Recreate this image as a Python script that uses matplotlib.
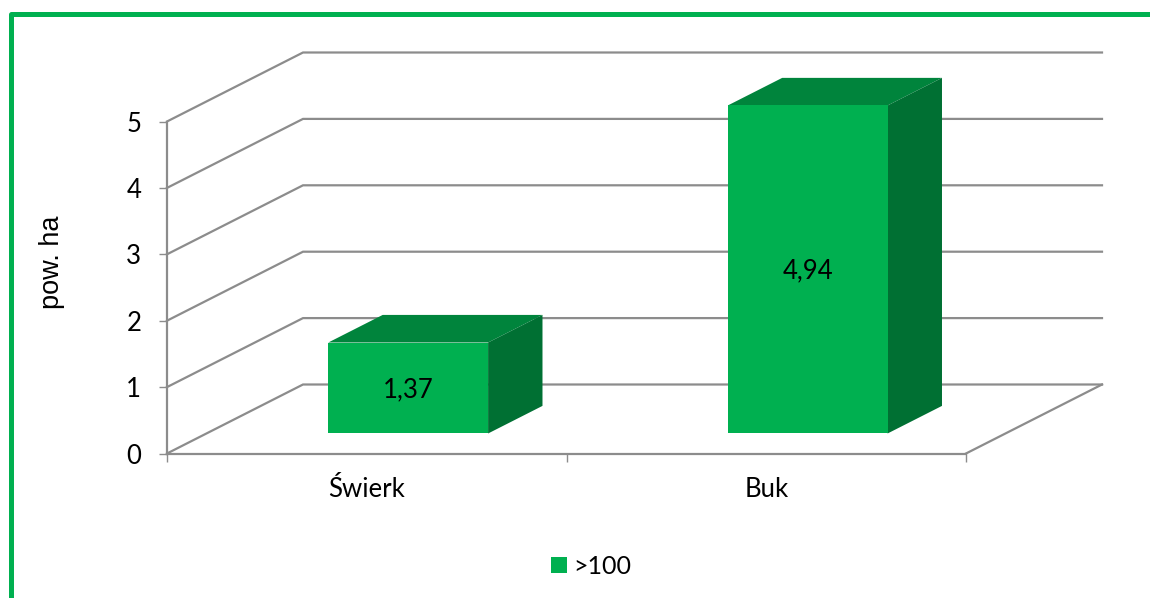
import matplotlib
matplotlib.use('Agg')
import matplotlib.pyplot as plt
from matplotlib.lines import Line2D
from matplotlib.patches import Patch

plt.rcParams['font.family'] = ['Lato', 'DejaVu Sans']

# Data
categories = ['Świerk', 'Buk']
values = [1.37, 4.94]
value_labels = ['1,37', '4,94']
series_name = '>100'
y_ticks = [0, 1, 2, 3, 4, 5]

# Colours
FRONT = '#00B050'
TOP = '#00843C'
SIDE = '#007033'
GRID = '#8C8C8C'
W, H = 1150, 598

fig = plt.figure(figsize=(W / 100, H / 100), dpi=100)

# Axes covers the front plane of the 3D box only
left, right, bottom, top = 167, 966, 453.5, 121.5
ax = fig.add_axes([left / W, 1 - bottom / H, (right - left) / W, (bottom - top) / H])
ax.set_xlim(0, len(categories))
ax.set_ylim(0, 5)
ax.patch.set_visible(False)

# Oblique projection: depth 0 = front of box, depth 1 = back wall
DX = 136 / ((right - left) / len(categories))
DY = 69 / ((bottom - top) / 5)


def proj(x, y, depth=0.0):
    return x + DX * depth, y + DY * depth


# Gridlines: along the side wall, then across the back wall
for t in y_ticks:
    x0, y0 = proj(0, t)
    x1, y1 = proj(0, t, 1)
    x2, y2 = proj(len(categories), t, 1)
    ax.plot([x0, x1, x2], [y0, y1, y2], color=GRID, lw=1.6, clip_on=False,
            solid_joinstyle='miter', zorder=1)

# Floor edge on the right
x0, y0 = proj(len(categories), 0)
x1, y1 = proj(len(categories), 0, 1)
ax.plot([x0, x1], [y0, y1], color=GRID, lw=1.6, clip_on=False, zorder=1)

# Bars
bar_width = 0.4
d0, d1 = 0.29, 0.69
for i, val in enumerate(values):
    xl = i + 0.505 - bar_width / 2
    xr = xl + bar_width
    corners_front = [proj(xl, 0, d0), proj(xr, 0, d0), proj(xr, val, d0), proj(xl, val, d0)]
    corners_top = [proj(xl, val, d0), proj(xr, val, d0), proj(xr, val, d1), proj(xl, val, d1)]
    corners_side = [proj(xr, 0, d0), proj(xr, 0, d1), proj(xr, val, d1), proj(xr, val, d0)]
    for pts, c in [(corners_top, TOP), (corners_side, SIDE), (corners_front, FRONT)]:
        ax.fill(*zip(*pts), color=c, lw=0, clip_on=False, zorder=3)
    cx, cy = proj(i + 0.505, val / 2, d0)
    ax.text(cx, cy - 0.02, value_labels[i], ha='center', va='center', fontsize=18.5,
            color='black', zorder=4)

# Axes, ticks
for side in ['top', 'right']:
    ax.spines[side].set_visible(False)
for side in ['left', 'bottom']:
    ax.spines[side].set_color(GRID)
    ax.spines[side].set_linewidth(1.6)
ax.set_yticks(y_ticks)
ax.set_xticks(range(len(categories) + 1))
ax.set_xticklabels([])
ax.set_xticks([i + 0.5 for i in range(len(categories))], labels=categories, minor=True)
ax.tick_params(axis='y', length=5.5, width=1, color=GRID, labelsize=18.5, pad=13)
ax.tick_params(axis='x', which='major', length=5.5, width=1, color=GRID)
ax.tick_params(axis='x', which='minor', length=0, labelsize=18.5, pad=17)

# Axis title
fig.text(52 / W, 1 - 262 / H, 'pow. ha', rotation=90, ha='center', va='center',
         fontsize=19.5, family=['Liberation Sans', 'DejaVu Sans'])

# Legend
handle = Patch(facecolor=FRONT, edgecolor='none', label=series_name)
fig.legend(handles=[handle], loc='center', bbox_to_anchor=(591 / W, 1 - 566 / H),
           frameon=False, fontsize=18, handlelength=0.62, handleheight=0.62,
           handletextpad=0.25, borderpad=0)

# Green frame, open at right and bottom
fig.add_artist(Line2D([10.5 / W, 10.5 / W, 1], [0, 1 - 13.5 / H, 1 - 13.5 / H], color=FRONT,
                      lw=3.6, solid_joinstyle='round', transform=fig.transFigure))

fig.savefig('out.png', dpi=100)
plt.close()
